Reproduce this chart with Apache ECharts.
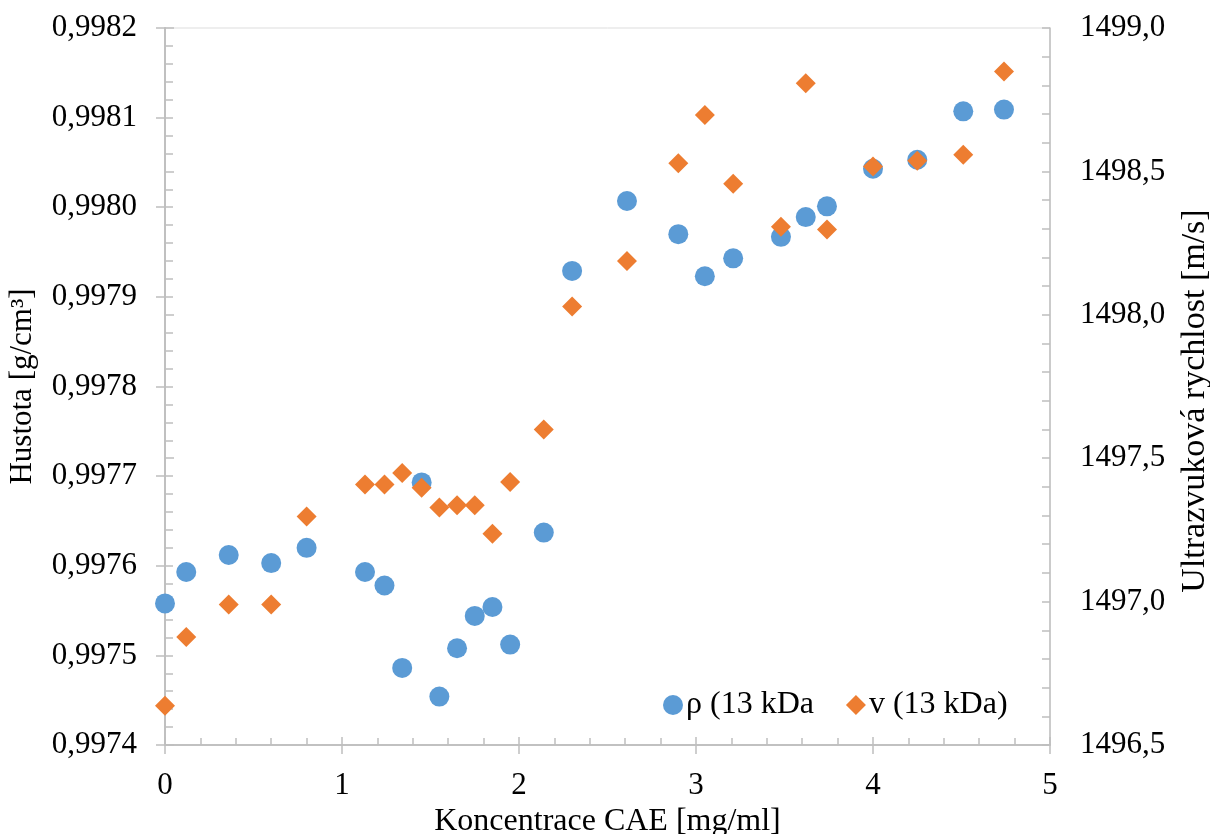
<!DOCTYPE html>
<html>
<head>
<meta charset="utf-8">
<script src="https://cdn.jsdelivr.net/npm/echarts@6/dist/echarts.min.js"></script>
<style>
  html, body { margin: 0; padding: 0; background: #fff; }
  #chart { width: 1210px; height: 834px; }
</style>
</head>
<body>
<div id="chart"></div>
<script>
// Concentration of CAE [mg/ml]
const concentration = [0, 0.12, 0.36, 0.60, 0.80, 1.13, 1.24, 1.34, 1.45, 1.55, 1.65, 1.75, 1.85, 1.95,
  2.14, 2.30, 2.61, 2.90, 3.05, 3.21, 3.48, 3.62, 3.74, 4.00, 4.25, 4.51, 4.74];

// Density rho [g/cm3]
const density = [0.997558, 0.997593, 0.997612, 0.997603, 0.997620, 0.997593, 0.997578, 0.997486,
  0.997693, 0.997454, 0.997508, 0.997544, 0.997554, 0.997512, 0.997637, 0.997929, 0.998007,
  0.997970, 0.997923, 0.997943, 0.997967, 0.997989, 0.998001, 0.998043, 0.998053, 0.998107, 0.998109];

// Ultrasonic velocity v [m/s]
const velocity = [1496.637, 1496.877, 1496.990, 1496.990, 1497.297, 1497.408, 1497.408, 1497.448,
  1497.397, 1497.328, 1497.336, 1497.336, 1497.237, 1497.417, 1497.600, 1498.029, 1498.188,
  1498.528, 1498.697, 1498.457, 1498.307, 1498.807, 1498.297, 1498.517, 1498.537, 1498.558, 1498.848];

const seriesNames = ['ρ (13 kDa', 'v (13 kDa)'];
const axisTitles = { x: 'Koncentrace CAE [mg/ml]', left: 'Hustota [g/cm³]', right: 'Ultrazvuková rychlost [m/s]' };

const FONT = '"Liberation Serif", "Times New Roman", serif';
const FS = 31;
const AXIS_GREY = '#BFBFBF';
const comma = (v, d) => v.toFixed(d).replace('.', ',');

const chart = echarts.init(document.getElementById('chart'), null, { renderer: 'canvas' });

const lineStyle = { color: AXIS_GREY, width: 1.5 };
const textStyle = { fontFamily: FONT, fontSize: FS, color: '#000' };

// Main axes carry labels and outward ticks; twin axes add the inward half of the ticks.
function xAxisBase(extra) {
  return Object.assign({
    type: 'value', min: 0, max: 5, interval: 1, gridIndex: 0, position: 'bottom',
    axisLine: { show: true, onZero: false, lineStyle },
    splitLine: { show: false }
  }, extra);
}
function yAxisBase(pos, min, max, interval, extra) {
  return Object.assign({
    type: 'value', min, max, interval, position: pos,
    axisLine: { show: true, lineStyle },
    splitLine: { show: false }
  }, extra);
}

const option = {
  backgroundColor: '#fff',
  animation: false,
  textStyle: { fontFamily: FONT },
  grid: {
    left: 165, right: 160, top: 28, bottom: 89,
    containLabel: false, outerBoundsMode: 'none',
    show: true, borderColor: '#DDDDDD', borderWidth: 1, backgroundColor: 'transparent'
  },
  legend: {
    left: 658, top: 684,
    itemWidth: 20, itemHeight: 20, itemGap: 32,
    textStyle: { fontFamily: FONT, fontSize: 32, color: '#000', padding: [0, 0, 0, -2] },
    data: [
      { name: seriesNames[0], icon: 'circle' },
      { name: seriesNames[1], icon: 'diamond' }
    ]
  },
  graphic: [
    {
      type: 'text', x: 1195, y: 401, rotation: Math.PI / 2,
      style: {
        text: axisTitles.right, fontFamily: FONT, fontSize: 34, fill: '#000',
        align: 'center', verticalAlign: 'middle'
      }
    }
  ],
  xAxis: [
    xAxisBase({
      name: axisTitles.x, nameLocation: 'middle', nameGap: 60,
      nameTextStyle: Object.assign({}, textStyle, { fontSize: 32 }),
      axisTick: { show: true, inside: false, length: 9, lineStyle },
      minorTick: { show: false },
      axisLabel: { fontFamily: FONT, fontSize: FS, color: '#000', margin: 25, formatter: v => String(v) }
    }),
    xAxisBase({
      axisTick: { show: true, inside: true, length: 8, lineStyle },
      minorTick: { show: true, splitNumber: 5, length: 7, lineStyle },
      axisLabel: { show: false }
    })
  ],
  yAxis: [
    yAxisBase('left', 0.9974, 0.9982, 0.0001, {
      name: axisTitles.left, nameLocation: 'middle', nameGap: 127, nameRotate: 90,
      nameTextStyle: textStyle,
      axisTick: { show: true, inside: false, length: 9, lineStyle },
      axisLabel: { fontFamily: FONT, fontSize: FS, color: '#000', margin: 28, formatter: v => comma(v, 4) }
    }),
    yAxisBase('right', 1496.5, 1499.0, 0.5, {
      axisTick: { show: true, inside: false, length: 9, lineStyle },
      axisLabel: { fontFamily: FONT, fontSize: FS, color: '#000', margin: 30, formatter: v => comma(v, 1) }
    }),
    yAxisBase('left', 0.9974, 0.9982, 0.0001, {
      axisTick: { show: true, inside: true, length: 8, lineStyle },
      minorTick: { show: true, splitNumber: 5, length: 8, lineStyle },
      axisLabel: { show: false }
    }),
    yAxisBase('right', 1496.5, 1499.0, 0.5, {
      axisTick: { show: true, inside: true, length: 8, lineStyle },
      minorTick: { show: true, splitNumber: 5, length: 8, lineStyle },
      axisLabel: { show: false }
    })
  ],
  series: [
    {
      name: seriesNames[0], type: 'scatter', xAxisIndex: 0, yAxisIndex: 0,
      symbol: 'circle', symbolSize: 20,
      itemStyle: { color: '#5B9BD5', opacity: 1 },
      data: concentration.map((c, i) => [c, density[i]]),
      z: 2
    },
    {
      name: seriesNames[1], type: 'scatter', xAxisIndex: 0, yAxisIndex: 1,
      symbol: 'diamond', symbolSize: 20,
      itemStyle: { color: '#ED7D31', opacity: 1 },
      data: concentration.map((c, i) => [c, velocity[i]]),
      z: 3
    }
  ]
};

chart.setOption(option);
</script>
</body>
</html>
